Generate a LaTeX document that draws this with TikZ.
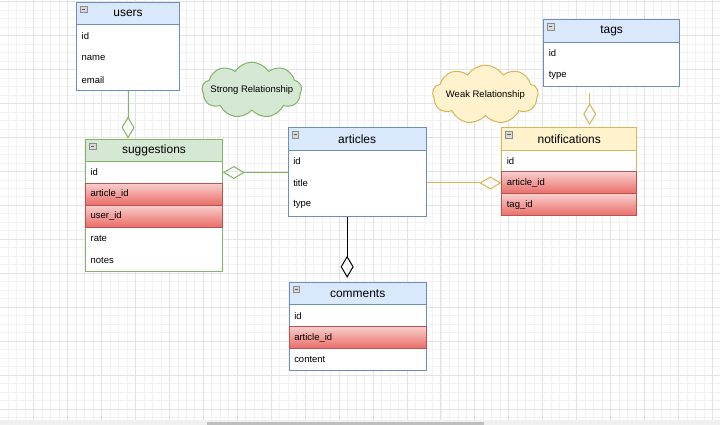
\documentclass[tikz,border=0pt]{standalone}
\usepackage{fontspec}
\setmainfont{Liberation Sans}
\usetikzlibrary{arrows.meta,shapes.symbols}

\definecolor{blueFill}{HTML}{DAE8FC}
\definecolor{blueLine}{HTML}{6C8EBF}
\definecolor{greenFill}{HTML}{D5E8D4}
\definecolor{greenLine}{HTML}{82B366}
\definecolor{goldFill}{HTML}{FFF2CC}
\definecolor{goldLine}{HTML}{D6B656}
\definecolor{redTop}{HTML}{F8CECC}
\definecolor{redBottom}{HTML}{EA6B66}
\definecolor{redLine}{HTML}{B85450}

\begin{document}
\begin{tikzpicture}[x=1pt,y=-1pt,line width=1pt]
        \tikzstyle{head}=[draw,rectangle,anchor=north west,minimum height=22.5pt,inner sep=0pt,font=\fontsize{12}{14}\selectfont]
        \tikzstyle{tbody}=[draw,fill=white,rectangle,anchor=north west,inner sep=0pt]
        \tikzstyle{field}=[rectangle,anchor=north west,minimum height=22pt,inner xsep=5pt,inner ysep=0pt,align=left,font=\fontsize{9.5}{11}\selectfont]
        \tikzstyle{fkey}=[field,draw=redLine,top color=redTop,bottom color=redBottom]
        \tikzstyle{icon}=[draw=black!45,fill=black!15,rectangle,anchor=north west,minimum size=6.5pt,inner sep=0pt,line width=0.6pt,
                path picture={\draw[black!65,line width=0.8pt] ([xshift=1.6pt]path picture bounding box.west) -- ([xshift=-1.6pt]path picture bounding box.east);}]
        \tikzstyle{relcloud}=[cloud,cloud puffs=9,cloud puff arc=115,aspect=1.8,inner sep=0pt]
        \tikzstyle{link}=[-{Diamond[open,length=22pt,width=13pt]}]

        % background grid
        \fill[white] (0,0) rectangle (721,425);
        \foreach \k in {-3,...,81}
                \draw[black!5,line width=0.5pt] ({33.3+8.5*\k},0) -- ({33.3+8.5*\k},420);
        \foreach \k in {0,...,49}
                \draw[black!5,line width=0.5pt] (0,{1.3+8.5*\k}) -- (721,{1.3+8.5*\k});
        \foreach \k in {0,...,20}
                \draw[black!11,line width=0.6pt] ({33.3+34*\k},0) -- ({33.3+34*\k},420);
        \foreach \k in {0,...,12}
                \draw[black!11,line width=0.6pt] (0,{1.3+34*\k}) -- (721,{1.3+34*\k});
        \fill[black!6] (0,420) rectangle (721,425);
        \fill[black!25] (207,422.5) rectangle (485,425);

        % users
        \node[tbody,minimum width=103pt,minimum height=66pt,draw=blueLine] (users-b) at (76,24) {};
        \node[head,minimum width=103pt,draw=blueLine,fill=blueFill] (users-h) at (76,1.5) {users};
        \node[icon] (users-i) at ([xshift=4pt,yshift=-4pt]users-h.north west) {};
        \foreach \i/\t in {1/id,2/name,3/email}
                \node[field,text width=93pt] (users-\i) at (76,{24+22*(\i-1)}) {\t};

        % suggestions
        \node[tbody,minimum width=137pt,minimum height=110pt,draw=greenLine] (sugg-b) at (85,161) {};
        \node[head,minimum width=137pt,draw=greenLine,fill=greenFill] (sugg-h) at (85,138.5) {suggestions};
        \node[icon] (sugg-i) at ([xshift=4pt,yshift=-4pt]sugg-h.north west) {};
        \foreach \i/\t/\s in {1/id/field,2/article\_id/fkey,3/user\_id/fkey,4/rate/field,5/notes/field}
                \node[\s,text width=127pt] (sugg-\i) at (85,{161+22*(\i-1)}) {\t};

        % articles
        \node[tbody,minimum width=138pt,minimum height=66.5pt,draw=blueLine] (articles-b) at (288,149.5) {};
        \node[head,minimum width=138pt,draw=blueLine,fill=blueFill] (articles-h) at (288,127) {articles};
        \node[icon] (articles-i) at ([xshift=4pt,yshift=-4pt]articles-h.north west) {};
        \foreach \i/\t in {1/id,2/title,3/type}
                \node[field,text width=128pt] (articles-\i) at (288,{149.5+22*(\i-1)}) {\t};

        % tags
        \node[tbody,minimum width=136pt,minimum height=44.5pt,draw=blueLine] (tags-b) at (544,41.5) {};
        \node[head,minimum width=136pt,draw=blueLine,fill=blueFill] (tags-h) at (544,19) {tags};
        \node[icon] (tags-i) at ([xshift=4pt,yshift=-4pt]tags-h.north west) {};
        \foreach \i/\t in {1/id,2/type}
                \node[field,text width=126pt] (tags-\i) at (544,{41.5+22*(\i-1)}) {\t};

        % notifications
        \node[tbody,minimum width=135pt,minimum height=66pt,draw=goldLine] (notif-b) at (502,149.5) {};
        \node[head,minimum width=135pt,draw=goldLine,fill=goldFill] (notif-h) at (502,127) {notifications};
        \node[icon] (notif-i) at ([xshift=4pt,yshift=-4pt]notif-h.north west) {};
        \foreach \i/\t/\s in {1/id/field,2/article\_id/fkey,3/tag\_id/fkey}
                \node[\s,text width=125pt] (notif-\i) at (502,{149.5+22*(\i-1)}) {\t};

        % comments
        \node[tbody,minimum width=137pt,minimum height=66pt,draw=blueLine] (comments-b) at (289,304.5) {};
        \node[head,minimum width=137pt,draw=blueLine,fill=blueFill] (comments-h) at (289,282) {comments};
        \node[icon] (comments-i) at ([xshift=4pt,yshift=-4pt]comments-h.north west) {};
        \foreach \i/\t/\s in {1/id/field,2/article\_id/fkey,3/content/field}
                \node[\s,text width=127pt] (comments-\i) at (289,{304.5+22*(\i-1)}) {\t};

        % relationship clouds
        \node[relcloud,draw=greenLine,fill=greenFill,minimum width=100pt,minimum height=56pt,
                label={[font=\fontsize{9.5}{11}\selectfont]center:Strong Relationship}] (strong) at (252,90) {};
        \node[relcloud,draw=goldLine,fill=goldFill,minimum width=106pt,minimum height=59pt,
                label={[font=\fontsize{9.5}{11}\selectfont]center:Weak Relationship}] (weak) at (486,94.5) {};

        % connectors
        \draw[link,greenLine] (users-b.south) -- (users-b.south |- sugg-h.north);
        \draw[link,greenLine] (articles-b.west |- sugg-1.east) -- (sugg-1.east);
        \draw[link,goldLine] (articles-b.east |- notif-2.west) -- (notif-2.west);
        \draw[link,goldLine,shorten <=6pt,shorten >=2pt] ([xshift=-22pt]tags-b.south) -- ([xshift=-22pt]tags-b.south |- notif-h.north);
        \draw[link,black,shorten >=4pt] ([xshift=-10pt]articles-b.south) -- ([xshift=-10pt]articles-b.south |- comments-h.north);
\end{tikzpicture}
\end{document}
